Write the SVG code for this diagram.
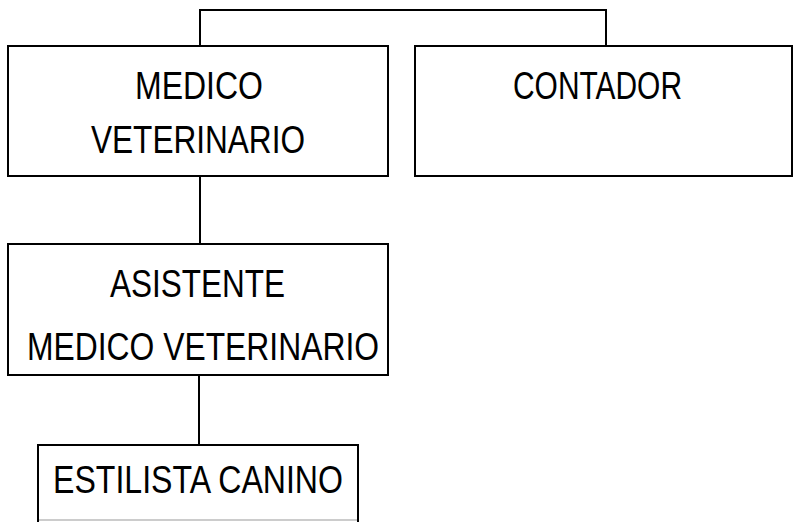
<svg xmlns="http://www.w3.org/2000/svg" width="793" height="522" viewBox="0 0 793 522">
<style>
.box{fill:#fff;stroke:#000;stroke-width:2}
.con{fill:none;stroke:#000;stroke-width:2}
.t{font-family:"Liberation Sans",Arial,sans-serif;font-size:39px;fill:#000;text-anchor:start}
</style>
<rect width="793" height="522" fill="#fff"/>
<g id="connectors">
<polyline class="con" points="200,46 200,10 606,10 606,46"/>
<line class="con" x1="200" y1="176" x2="200" y2="244"/>
<line class="con" x1="199" y1="375" x2="199" y2="445"/>
</g>
<g id="medico">
<rect class="box" x="8" y="46" width="380" height="130"/>
<text class="t" x="135" y="99" textLength="128" lengthAdjust="spacingAndGlyphs">MEDICO</text>
<text class="t" x="91" y="153" textLength="214" lengthAdjust="spacingAndGlyphs">VETERINARIO</text>
</g>
<g id="contador">
<rect class="box" x="415" y="46" width="377" height="130"/>
<text class="t" x="513" y="99" textLength="169" lengthAdjust="spacingAndGlyphs">CONTADOR</text>
</g>
<g id="asistente">
<rect class="box" x="8" y="244" width="380" height="131"/>
<text class="t" x="110" y="297" textLength="175" lengthAdjust="spacingAndGlyphs">ASISTENTE</text>
<text class="t" x="27" y="360" textLength="352" lengthAdjust="spacingAndGlyphs">MEDICO VETERINARIO</text>
</g>
<g id="estilista">
<rect x="38" y="445" width="320" height="76" fill="#fff"/>
<line x1="38" y1="520" x2="358" y2="520" stroke="#bbb" stroke-width="1.5"/>
<polyline class="con" points="38,522 38,445 358,445 358,522"/>
<text class="t" x="53" y="493" textLength="290" lengthAdjust="spacingAndGlyphs">ESTILISTA CANINO</text>
</g>
</svg>
